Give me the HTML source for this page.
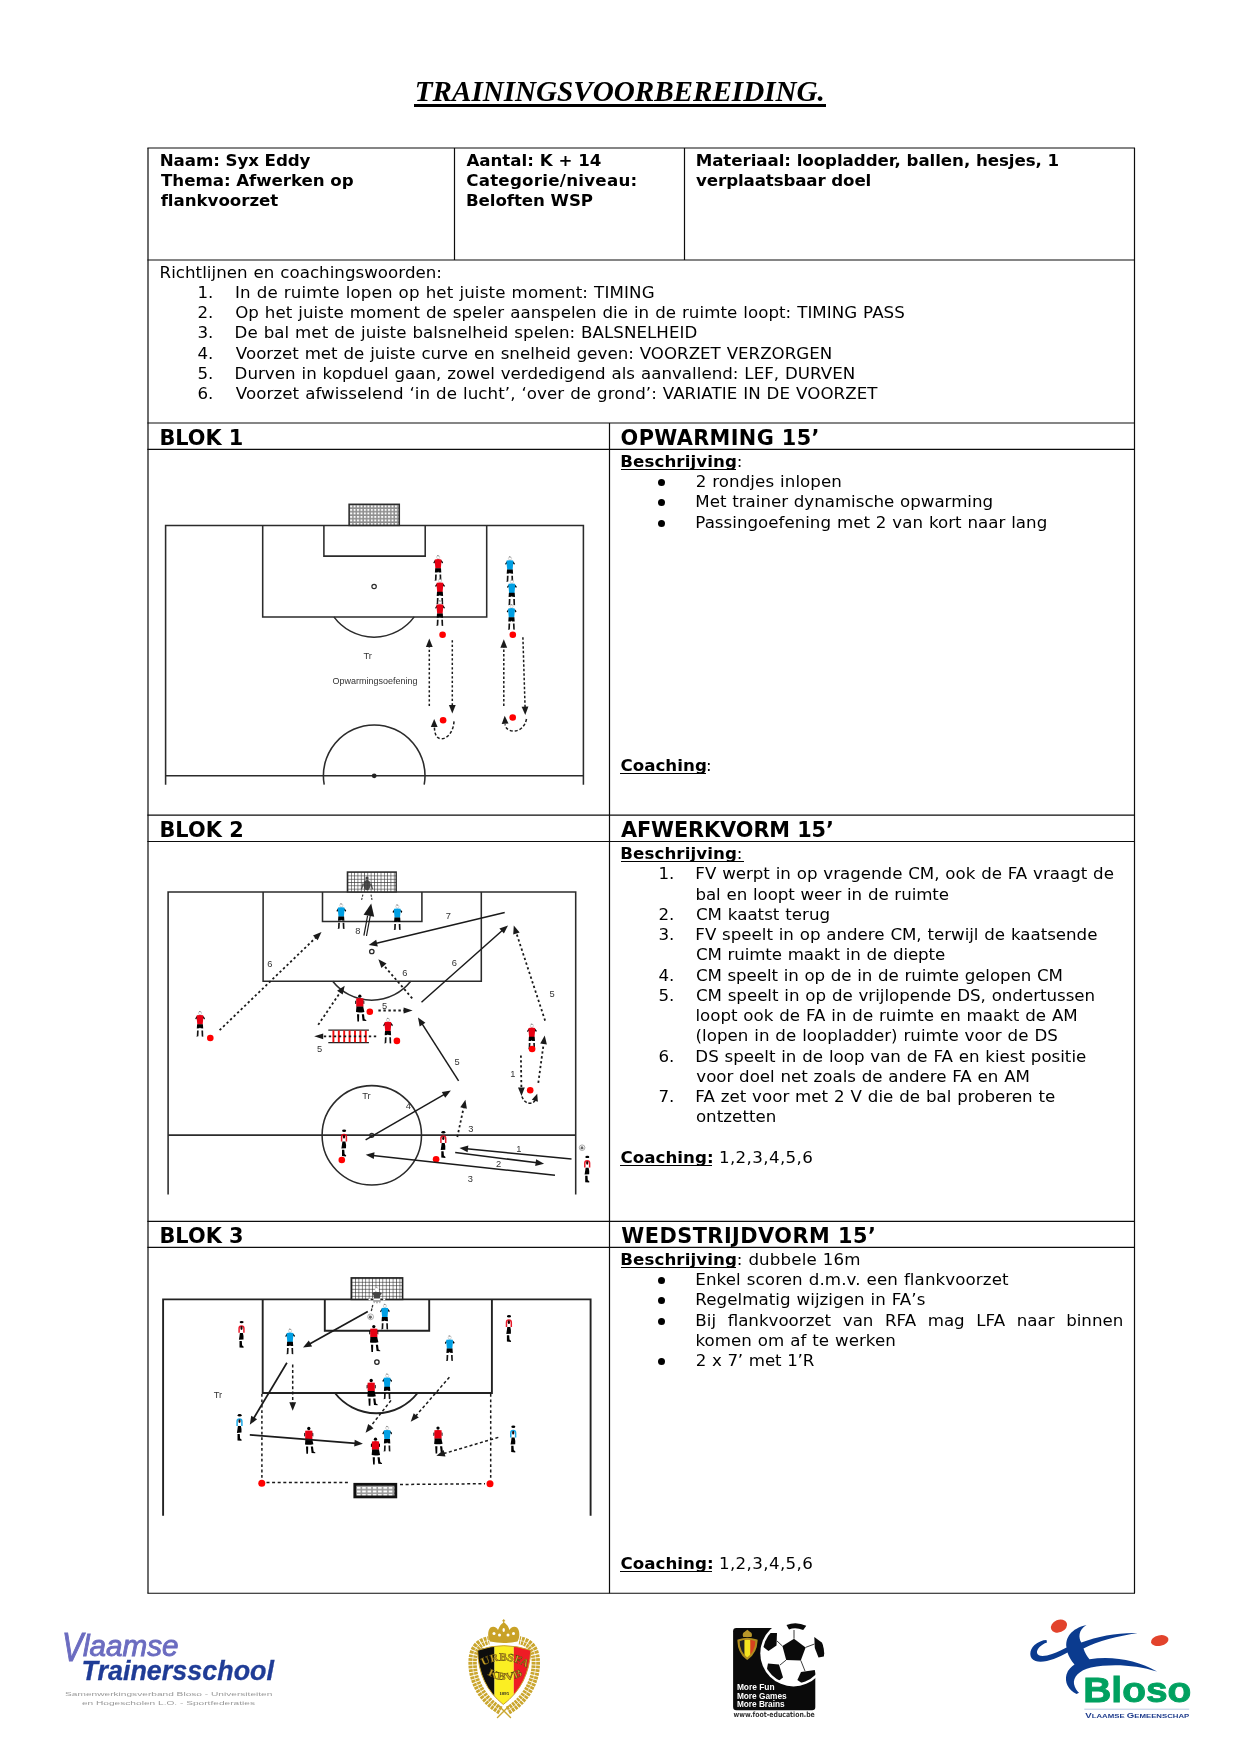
<!DOCTYPE html>
<html lang="nl"><head><meta charset="utf-8"><title>Trainingsvoorbereiding</title>
<style>
*{margin:0;padding:0;box-sizing:border-box}
html,body{width:1241px;background:#fff}
.t{position:absolute;white-space:pre;color:#000;line-height:24px;height:24px;font-family:"DejaVu Sans","Liberation Sans",sans-serif;font-kerning:normal}
.r{font-size:16.667px;word-spacing:0.57px}
.b{font-size:16.667px;font-weight:bold}
.h{font-size:20.833px;font-weight:bold}
.ti{font-family:"Liberation Serif",serif;font-weight:bold;font-style:italic;font-size:29.17px;line-height:36px;height:36px}

body{position:relative;height:1754px;overflow:hidden}
#pg{position:absolute;left:0;top:0;width:1241px;height:1754px;will-change:transform}
.ul{position:absolute;background:#000}
.bu{position:absolute;width:7px;height:7px;border-radius:50%;background:#000}
svg{position:absolute;overflow:visible}
</style></head>
<body>
<div id="pg">
<svg width="1241" height="1754" viewBox="0 0 1241 1754" style="left:0;top:0" fill="none" stroke="#0d0d0d" stroke-width="1.2">
<path d="M147.4 148H1135M147.4 260H1135M147.4 423H1135M147.4 449.45H1135M147.4 815.15H1135M147.4 841.5H1135M147.4 1221.4H1135M147.4 1247.35H1135M147.4 1593.25H1135"/>
<path d="M148 148V1593.25M1134.5 148V1593.25M454.5 148V260M684.5 148V260M609.5 423V1593.25"/>
</svg>
<div class="t ti" style="left:414.8px;top:73px;letter-spacing:-0.03px">TRAININGSVOORBEREIDING.</div>
<div class="ul" style="left:414.4px;top:104px;width:411.3px;height:2.9px"></div>
<div class="t b" style="left:159.68px;top:149.00px;letter-spacing:-0.071px;">Naam: Syx Eddy</div>
<div class="t b" style="left:161.07px;top:169.00px;letter-spacing:-0.056px;">Thema: Afwerken op</div>
<div class="t b" style="left:160.64px;top:189.00px;letter-spacing:-0.031px;">flankvoorzet</div>
<div class="t b" style="left:466.42px;top:149.00px;letter-spacing:-0.007px;">Aantal: K + 14</div>
<div class="t b" style="left:466.17px;top:169.00px;letter-spacing:0.259px;">Categorie/niveau:</div>
<div class="t b" style="left:465.93px;top:189.00px;letter-spacing:-0.069px;">Beloften WSP</div>
<div class="t b" style="left:695.63px;top:149.00px;letter-spacing:-0.055px;">Materiaal: loopladder, ballen, hesjes, 1</div>
<div class="t b" style="left:696.12px;top:169.00px;letter-spacing:-0.115px;">verplaatsbaar doel</div>
<div class="t r" style="left:159.59px;top:261.00px;letter-spacing:0.029px;">Richtlijnen en coachingswoorden:</div>
<div class="t r" style="left:197.47px;top:281.00px;">1.</div>
<div class="t r" style="left:234.94px;top:281.00px;letter-spacing:0.141px;">In de ruimte lopen op het juiste moment: TIMING</div>
<div class="t r" style="left:197.47px;top:301.00px;">2.</div>
<div class="t r" style="left:235.13px;top:301.00px;letter-spacing:0.050px;">Op het juiste moment de speler aanspelen die in de ruimte loopt: TIMING PASS</div>
<div class="t r" style="left:197.47px;top:321.00px;">3.</div>
<div class="t r" style="left:234.59px;top:321.00px;letter-spacing:0.044px;">De bal met de juiste balsnelheid spelen: BALSNELHEID</div>
<div class="t r" style="left:197.47px;top:342.00px;">4.</div>
<div class="t r" style="left:235.87px;top:342.00px;letter-spacing:0.007px;">Voorzet met de juiste curve en snelheid geven: VOORZET VERZORGEN</div>
<div class="t r" style="left:197.47px;top:362.00px;">5.</div>
<div class="t r" style="left:234.59px;top:362.00px;letter-spacing:0.022px;">Durven in kopduel gaan, zowel verdedigend als aanvallend: LEF, DURVEN</div>
<div class="t r" style="left:197.47px;top:382.00px;">6.</div>
<div class="t r" style="left:235.87px;top:382.00px;letter-spacing:0.070px;">Voorzet afwisselend ‘in de lucht’, ‘over de grond’: VARIATIE IN DE VOORZET</div>
<div class="t h" style="left:159.42px;top:426.00px;letter-spacing:-0.012px;">BLOK 1</div>
<div class="t h" style="left:620.57px;top:426.00px;letter-spacing:0.379px;">OPWARMING 15’</div>
<div class="t h" style="left:159.42px;top:818.00px;letter-spacing:0.052px;">BLOK 2</div>
<div class="t h" style="left:620.90px;top:818.00px;letter-spacing:-0.083px;">AFWERKVORM 15’</div>
<div class="t h" style="left:159.42px;top:1224.00px;letter-spacing:0.038px;">BLOK 3</div>
<div class="t h" style="left:621.27px;top:1224.00px;letter-spacing:0.479px;">WEDSTRIJDVORM 15’</div>
<div class="t b" style="left:620.18px;top:450.00px;letter-spacing:0.108px;">Beschrijving</div>
<div class="ul" style="left:620.55px;top:468.60px;width:115.50px;height:1.5px"></div>
<div class="t r" style="left:736.63px;top:450.00px;">:</div>
<div class="t r" style="left:695.71px;top:470.00px;letter-spacing:0.068px;">2 rondjes inlopen</div>
<div class="bu" style="left:658.25px;top:479.20px"></div>
<div class="t r" style="left:695.34px;top:490.00px;letter-spacing:-0.022px;">Met trainer dynamische opwarming</div>
<div class="bu" style="left:658.25px;top:499.20px"></div>
<div class="t r" style="left:695.34px;top:511.00px;letter-spacing:0.015px;">Passingoefening met 2 van kort naar lang</div>
<div class="bu" style="left:658.25px;top:520.20px"></div>
<div class="t b" style="left:620.42px;top:754.00px;letter-spacing:0.038px;">Coaching</div>
<div class="ul" style="left:620.05px;top:772.60px;width:85.75px;height:1.5px"></div>
<div class="t r" style="left:706.08px;top:754.00px;">:</div>
<div class="t b" style="left:620.18px;top:842.00px;letter-spacing:0.108px;">Beschrijving</div>
<div class="ul" style="left:620.55px;top:860.60px;width:115.50px;height:1.5px"></div>
<div class="t r" style="left:736.63px;top:842.00px;">:</div>
<div class="ul" style="left:735.75px;top:860.80px;width:8.50px;height:1px"></div>
<div class="t r" style="left:658.47px;top:862.00px;">1.</div>
<div class="t r" style="left:695.34px;top:862.00px;letter-spacing:-0.012px;">FV werpt in op vragende CM, ook de FA vraagt de</div>
<div class="t r" style="left:695.46px;top:883.00px;letter-spacing:-0.065px;">bal en loopt weer in de ruimte</div>
<div class="t r" style="left:658.47px;top:903.00px;">2.</div>
<div class="t r" style="left:695.88px;top:903.00px;letter-spacing:0.016px;">CM kaatst terug</div>
<div class="t r" style="left:658.47px;top:923.00px;">3.</div>
<div class="t r" style="left:695.34px;top:923.00px;letter-spacing:-0.018px;">FV speelt in op andere CM, terwijl de kaatsende</div>
<div class="t r" style="left:695.88px;top:943.00px;letter-spacing:-0.097px;">CM ruimte maakt in de diepte</div>
<div class="t r" style="left:658.47px;top:964.00px;">4.</div>
<div class="t r" style="left:695.88px;top:964.00px;letter-spacing:-0.087px;">CM speelt in op de in de ruimte gelopen CM</div>
<div class="t r" style="left:658.47px;top:984.00px;">5.</div>
<div class="t r" style="left:695.88px;top:984.00px;letter-spacing:-0.018px;">CM speelt in op de vrijlopende DS, ondertussen</div>
<div class="t r" style="left:695.40px;top:1004.00px;">loopt ook de FA in de ruimte en maakt de AM</div>
<div class="t r" style="left:695.50px;top:1024.00px;letter-spacing:0.026px;">(lopen in de loopladder) ruimte voor de DS</div>
<div class="t r" style="left:658.47px;top:1045.00px;">6.</div>
<div class="t r" style="left:695.34px;top:1045.00px;letter-spacing:-0.011px;">DS speelt in de loop van de FA en kiest positie</div>
<div class="t r" style="left:696.31px;top:1065.00px;letter-spacing:-0.027px;">voor doel net zoals de andere FA en AM</div>
<div class="t r" style="left:658.47px;top:1085.00px;">7.</div>
<div class="t r" style="left:695.34px;top:1085.00px;letter-spacing:0.012px;">FA zet voor met 2 V die de bal proberen te</div>
<div class="t r" style="left:695.89px;top:1105.00px;letter-spacing:0.051px;">ontzetten</div>
<div class="t b" style="left:620.42px;top:1146.00px;letter-spacing:0.049px;">Coaching:</div>
<div class="ul" style="left:620.05px;top:1164.60px;width:92.25px;height:1.5px"></div>
<div class="t r" style="left:718.95px;top:1146.00px;letter-spacing:0.387px;">1,2,3,4,5,6</div>
<div class="t b" style="left:620.18px;top:1248.00px;letter-spacing:0.108px;">Beschrijving</div>
<div class="ul" style="left:620.55px;top:1266.60px;width:115.50px;height:1.5px"></div>
<div class="t r" style="left:736.63px;top:1248.00px;letter-spacing:0.150px;">: dubbele 16m</div>
<div class="t r" style="left:695.34px;top:1268.00px;letter-spacing:0.104px;">Enkel scoren d.m.v. een flankvoorzet</div>
<div class="bu" style="left:658.25px;top:1277.20px"></div>
<div class="t r" style="left:695.34px;top:1288.00px;letter-spacing:0.058px;">Regelmatig wijzigen in FA’s</div>
<div class="bu" style="left:658.25px;top:1297.20px"></div>
<div class="t r" style="left:695.34px;top:1309.00px;word-spacing:6.339px;">Bij flankvoorzet van RFA mag LFA naar binnen</div>
<div class="bu" style="left:658.25px;top:1318.20px"></div>
<div class="t r" style="left:695.46px;top:1329.00px;letter-spacing:0.038px;">komen om af te werken</div>
<div class="t r" style="left:695.71px;top:1349.00px;letter-spacing:-0.124px;">2 x 7’ met 1’R</div>
<div class="bu" style="left:658.25px;top:1358.20px"></div>
<div class="t b" style="left:620.42px;top:1552.00px;letter-spacing:0.049px;">Coaching:</div>
<div class="ul" style="left:620.05px;top:1570.60px;width:92.25px;height:1.5px"></div>
<div class="t r" style="left:718.95px;top:1552.00px;letter-spacing:0.387px;">1,2,3,4,5,6</div>
<svg width="1241" height="1754" viewBox="0 0 1241 1754" style="left:0;top:0;filter:blur(0.35px)" font-family="&quot;Liberation Sans&quot;,Arial,sans-serif">
<defs>
<pattern id="net" width="3.45" height="3.5" patternUnits="userSpaceOnUse" x="349.3" y="504.6"><rect width="3.45" height="3.5" fill="#8f8f8f"/><rect x="0.9" y="0.9" width="1.9" height="1.9" fill="#fff"/></pattern>
<pattern id="net2" width="3.3" height="3.3" patternUnits="userSpaceOnUse" x="347.6" y="872.2"><rect width="3.3" height="3.3" fill="#fff"/><path d="M0 0.4H3.3M0.4 0V3.3" stroke="#3a3a3a" stroke-width="0.62"/></pattern>
<pattern id="net3" width="3.42" height="3.5" patternUnits="userSpaceOnUse" x="351.6" y="1278.3"><rect width="3.5" height="3.5" fill="#fff"/><path d="M0 0.4H3.5M0.4 0V3.5" stroke="#2a2a2a" stroke-width="0.6"/></pattern>
<pattern id="net4" width="5.3" height="3.6" patternUnits="userSpaceOnUse" x="356" y="1486"><rect width="5.3" height="3.6" fill="#9a9a9a"/><rect x="0.9" y="0.9" width="3.7" height="2" fill="#fff"/></pattern>
<g id="pf"><circle cx="0.1" cy="-2" r="1.6" fill="#fff" stroke="#aaa" stroke-width="0.5"/><path d="M-0.9 -3.7l1.6 0.5" stroke="#444" stroke-width="0.6" fill="none"/>
<path d="M-3.2 0.9L-4.8 3.5L-3.9 4.4L-2.7 2.6ZM3.2 0.9L5 3.1L4.3 4.4L2.7 2.6Z" fill="#000"/>
<path d="M-3.2 0.2Q0 -0.4 3.2 0.2L3.4 1.8L2.7 9.3H-2.7L-3.4 1.8Z" fill="currentColor"/>
<path d="M-2.9 9.1H2.9L3.2 13.4L0.5 13.2L0 12.3L-0.5 13.2L-3.2 13.4Z" fill="#000"/>
<path d="M-3 15.4L-1.3 15.4L-1.6 21.2L-3.6 21.6L-3.2 20.6ZM1.4 15.4L3.1 15.4L3.3 21.6L1.7 21.3Z" fill="#000" opacity="0.92"/></g>
<g id="pb"><circle cx="0" cy="-2.1" r="1.65" fill="#000"/>
<path d="M-3.5 2L-4.6 2.6L-4.6 5.8L-3.5 5.4ZM3.5 2L4.5 2.6L4.5 5.8L3.5 5.4Z" fill="#000"/>
<path d="M-3.6 0.1Q0 -0.5 3.6 0.1V8.5H-3.6Z" fill="currentColor"/>
<path d="M-3.4 8.3H3.4L4.6 13.6Q0 14.6 -3.8 13.8Z" fill="#000"/>
<path d="M-2.8 16L-0.6 16L-0.8 23.2L-2.4 23.2ZM2 16L4.2 16L4.8 20.8L6.6 22L6.4 22.6L2.8 22.4Z" fill="#000"/></g>
<g id="ps"><ellipse cx="0.1" cy="1" rx="2" ry="1.2" fill="#000"/>
<path d="M-2.4 11.7V7.2Q-2.4 4.8 0 4.8Q2.4 4.8 2.4 7.2V11.7" fill="none" stroke="currentColor" stroke-width="1.5" opacity="0.9"/>
<ellipse cx="0" cy="6.9" rx="1.1" ry="1.9" fill="#200"/>
<path d="M-1.6 11.8H1.4Q2.4 15 2 18.4L-2.6 18.7Q-2 15 -1.6 11.8Z" fill="#000"/>
<path d="M-2 19.9H0.3L0.6 24.2L2.2 25.6L2 26.6L-2 26.3Z" fill="#000"/></g>
</defs>
<g fill="none" stroke="#2b2b2b" stroke-width="1.55">
<path d="M165.6 784.7V525.4H583.4V784.7"/>
<path d="M262.7 525.4V616.9H486.7V525.4"/>
<path d="M323.9 525.4V556.1H425.2V525.4"/>
<path d="M333.9 616.9A49.9 49.9 0 0 0 414.2 616.9"/>
<path d="M165.6 775.8H583.4"/>
<path d="M324.2 784.7A50.8 50.8 0 1 1 424.2 784.7" />
<circle cx="374.1" cy="586.5" r="2.2" stroke-width="1.2"/>
<rect x="349.1" y="504.3" width="50.2" height="21.1" fill="url(#net)" stroke-width="1.5"/>
</g>
<circle cx="374.2" cy="775.8" r="2.4" fill="#222"/>
<use href="#pf" x="438.1" y="559.2" color="#e60012"/>
<use href="#pf" x="439.9" y="582.6" color="#e60012"/>
<use href="#pf" x="439.9" y="604.4" color="#e60012"/>
<use href="#pf" x="509.9" y="560.4" color="#009fe3"/>
<use href="#pf" x="511.8" y="583.6" color="#009fe3"/>
<use href="#pf" x="511.5" y="608.2" color="#009fe3"/>
<circle cx="442.6" cy="634.7" r="3.3" fill="#f00"/>
<circle cx="512.8" cy="634.7" r="3.3" fill="#f00"/>
<circle cx="443.1" cy="720.2" r="3.3" fill="#f00"/>
<circle cx="512.7" cy="717.5" r="3.3" fill="#f00"/>
<path d="M429.3 706.1L429.3 645.5" stroke="#1a1a1a" stroke-width="1.50" fill="none" stroke-dasharray="2.4 2.1"/>
<path d="M429.3 638.5L432.7 647.0L425.9 647.0Z" fill="#1a1a1a"/>
<path d="M452.3 640.2L452.3 706.4" stroke="#1a1a1a" stroke-width="1.50" fill="none" stroke-dasharray="2.4 2.1"/>
<path d="M452.3 713.4L448.9 704.9L455.7 704.9Z" fill="#1a1a1a"/>
<path d="M503.8 706.0L503.8 646.2" stroke="#1a1a1a" stroke-width="1.50" fill="none" stroke-dasharray="2.4 2.1"/>
<path d="M503.8 639.2L507.2 647.7L500.4 647.7Z" fill="#1a1a1a"/>
<path d="M522.9 637.3L525.1 708.1" stroke="#1a1a1a" stroke-width="1.50" fill="none" stroke-dasharray="2.4 2.1"/>
<path d="M525.3 715.1L521.6 706.7L528.4 706.5Z" fill="#1a1a1a"/>
<path d="M454 721.4C453.5 731 448 739 441 738.8C436 738.6 434.6 733 434.4 727" fill="none" stroke="#1a1a1a" stroke-width="1.5" stroke-dasharray="3 2"/>
<path d="M434.2 719.0L437.6 727.0L430.8 727.0Z" fill="#1a1a1a"/>
<path d="M526.5 719C525 727 519 731.6 512.7 731C508 730.6 505.6 728 505 724.3" fill="none" stroke="#1a1a1a" stroke-width="1.5" stroke-dasharray="3 2"/>
<path d="M504.7 715.8L508.5 723.6L501.7 724.0Z" fill="#1a1a1a"/>
<text x="363.4" y="659" font-size="9.4" fill="#333" textLength="8.6" lengthAdjust="spacingAndGlyphs">Tr</text>
<text x="332.6" y="684.4" font-size="9.4" fill="#333" textLength="85" lengthAdjust="spacingAndGlyphs">Opwarmingsoefening</text>
<g fill="none" stroke="#2b2b2b" stroke-width="1.55">
<path d="M168.1 1194.6V891.9H575.7V1194.6"/>
<path d="M263.1 891.9V981.3H481.3V891.9"/>
<path d="M322.5 891.9V921.5H421.9V891.9"/>
<path d="M332.7 981.3A49.7 49.7 0 0 0 410.7 981.3"/>
<path d="M168.1 1135.1H575.7"/>
<circle cx="371.8" cy="1135.3" r="49.7"/>
<circle cx="371.8" cy="951.5" r="2.2" stroke-width="1.3"/>
<circle cx="371.8" cy="1135.3" r="2" stroke-width="1.3"/>
<rect x="347.4" y="872" width="48.8" height="19.9" fill="url(#net2)" stroke-width="1.4"/>
</g>
<g fill="#3a3a3a"><ellipse cx="367" cy="885" rx="3.4" ry="5.2" opacity="0.9"/><circle cx="367" cy="878" r="1.6" fill="#444"/><path d="M362.6 883L360.8 889L362 889.6L364 884ZM371.4 883L373.2 889L372 889.6L370 884Z" opacity="0.8"/></g>
<path d="M362.9 894.6L361.6 899.9M371 894.6L372 899.9" stroke="#333" stroke-width="1.1" stroke-dasharray="2.2 1.2" fill="none"/>
<use href="#pf" x="341.2" y="907.4" color="#009fe3"/>
<use href="#pf" x="397.3" y="908.5" color="#009fe3"/>
<use href="#pf" x="200.0" y="1015.1" color="#e60012"/>
<use href="#pf" x="387.9" y="1021.9" color="#e60012"/>
<use href="#pf" x="531.8" y="1027.7" color="#e60012"/>
<use href="#pb" x="359.8" y="998.3" color="#e60012"/>
<use href="#ps" x="344.0" y="1129.8" color="#e60012"/>
<use href="#ps" x="443.3" y="1131.3" color="#e60012"/>
<use href="#ps" x="587.2" y="1155.9" color="#e60012"/>
<circle cx="210.3" cy="1038.0" r="3.3" fill="#f00"/>
<circle cx="369.8" cy="1011.8" r="3.3" fill="#f00"/>
<circle cx="396.9" cy="1040.9" r="3.3" fill="#f00"/>
<circle cx="532.1" cy="1049.0" r="3.3" fill="#f00"/>
<circle cx="530.2" cy="1090.2" r="3.3" fill="#f00"/>
<circle cx="341.8" cy="1160.0" r="3.3" fill="#f00"/>
<circle cx="436.1" cy="1159.3" r="3.3" fill="#f00"/>
<path d="M328.3 1030.2H368.9M328.3 1042.6H368.9" stroke="#222" stroke-width="1.2" fill="none"/>
<path d="M333.4 1030.6V1042.2M338.8 1030.6V1042.2M344.2 1030.6V1042.2M349.6 1030.6V1042.2M355.0 1030.6V1042.2M360.4 1030.6V1042.2M365.8 1030.6V1042.2" stroke="#f20d0d" stroke-width="1.9" fill="none"/>
<path d="M376.2 1036.4L321.7 1036.3" stroke="#1a1a1a" stroke-width="1.80" fill="none" stroke-dasharray="2.4 2.6"/>
<path d="M314.2 1036.3L323.2 1033.4L323.2 1039.2Z" fill="#1a1a1a"/>
<path d="M219.6 1030.2L316.5 936.9" stroke="#1a1a1a" stroke-width="1.80" fill="none" stroke-dasharray="2.3 2.6"/>
<path d="M321.5 932.0L317.7 940.3L313.0 935.5Z" fill="#1a1a1a"/>
<path d="M318.2 1024.8L340.8 991.5" stroke="#1a1a1a" stroke-width="1.80" fill="none" stroke-dasharray="2.3 2.6"/>
<path d="M344.7 985.7L342.7 994.6L337.1 990.8Z" fill="#1a1a1a"/>
<path d="M412.2 998.3L383.0 964.5" stroke="#1a1a1a" stroke-width="1.80" fill="none" stroke-dasharray="2.3 2.6"/>
<path d="M378.4 959.2L386.5 963.4L381.4 967.9Z" fill="#1a1a1a"/>
<path d="M378.4 1010.5L405.1 1010.5" stroke="#1a1a1a" stroke-width="1.80" fill="none" stroke-dasharray="2.4 2.6"/>
<path d="M412.6 1010.5L403.6 1013.5L403.6 1007.5Z" fill="#1a1a1a"/>
<path d="M545.1 1020.6L516.0 932.0" stroke="#1a1a1a" stroke-width="1.80" fill="none" stroke-dasharray="2.3 2.6"/>
<path d="M513.8 925.4L519.7 932.4L513.2 934.5Z" fill="#1a1a1a"/>
<path d="M538.3 1082.8L543.8 1042.4" stroke="#1a1a1a" stroke-width="1.80" fill="none" stroke-dasharray="2.3 2.6"/>
<path d="M544.7 1035.5L546.9 1044.4L540.2 1043.5Z" fill="#1a1a1a"/>
<path d="M520.9 1055.4L521.4 1089.0" stroke="#1a1a1a" stroke-width="1.80" fill="none" stroke-dasharray="2.3 2.6"/>
<path d="M521.5 1096.0L518.0 1087.6L524.8 1087.5Z" fill="#1a1a1a"/>
<path d="M521.9 1096.5C523.5 1101 527 1103.6 530.5 1103.2C533 1103 534.6 1101.6 535.3 1100" fill="none" stroke="#1a1a1a" stroke-width="1.5" stroke-dasharray="3 1.8"/>
<path d="M537.2 1093.7L537.9 1101.8L531.8 1099.8Z" fill="#1a1a1a"/>
<path d="M457.3 1137.0L463.9 1106.5" stroke="#1a1a1a" stroke-width="1.80" fill="none" stroke-dasharray="2.3 2.6"/>
<path d="M465.4 1099.7L466.9 1108.7L460.3 1107.3Z" fill="#1a1a1a"/>
<path d="M504.7 912.6L375.5 943.5" stroke="#1a1a1a" stroke-width="1.50" fill="none"/>
<path d="M368.7 945.1L376.2 939.8L377.8 946.4Z" fill="#1a1a1a"/>
<path d="M421.5 1002.2L502.8 930.0" stroke="#1a1a1a" stroke-width="1.50" fill="none"/>
<path d="M508.0 925.4L503.9 933.6L499.4 928.5Z" fill="#1a1a1a"/>
<path d="M458.6 1080.9L421.8 1023.4" stroke="#1a1a1a" stroke-width="1.50" fill="none"/>
<path d="M418.0 1017.5L425.4 1022.8L419.7 1026.5Z" fill="#1a1a1a"/>
<path d="M365.6 1139.9L444.8 1094.1" stroke="#1a1a1a" stroke-width="1.50" fill="none"/>
<path d="M450.9 1090.6L445.2 1097.8L441.8 1091.9Z" fill="#1a1a1a"/>
<path d="M571.5 1159.1L466.5 1148.7" stroke="#1a1a1a" stroke-width="1.50" fill="none"/>
<path d="M459.5 1148.0L468.3 1145.5L467.6 1152.2Z" fill="#1a1a1a"/>
<path d="M455.2 1152.5L537.2 1162.8" stroke="#1a1a1a" stroke-width="1.50" fill="none"/>
<path d="M544.1 1163.7L535.2 1166.0L536.1 1159.3Z" fill="#1a1a1a"/>
<path d="M555.0 1175.3L372.7 1155.5" stroke="#1a1a1a" stroke-width="1.50" fill="none"/>
<path d="M365.7 1154.7L374.5 1152.2L373.8 1159.0Z" fill="#1a1a1a"/>
<path d="M363.9 935.6L367.6 915.6" stroke="#1a1a1a" stroke-width="1.20" fill="none"/>
<path d="M366.5 936.0L370.2 916.0" stroke="#1a1a1a" stroke-width="1.20" fill="none"/>
<path d="M371.2 903.5L374.2 916.8L363.6 914.8Z" fill="#1a1a1a"/>
<text x="357.9" y="933.5" font-size="9.3" fill="#333" text-anchor="middle">8</text>
<text x="269.9" y="967.2" font-size="9.3" fill="#333" text-anchor="middle">6</text>
<text x="448.4" y="918.8" font-size="9.3" fill="#333" text-anchor="middle">7</text>
<text x="454.4" y="966.4" font-size="9.3" fill="#333" text-anchor="middle">6</text>
<text x="404.9" y="975.5" font-size="9.3" fill="#333" text-anchor="middle">6</text>
<text x="552.1" y="997.1" font-size="9.3" fill="#333" text-anchor="middle">5</text>
<text x="384.6" y="1008.6" font-size="9.3" fill="#333" text-anchor="middle">5</text>
<text x="319.6" y="1051.9" font-size="9.3" fill="#333" text-anchor="middle">5</text>
<text x="457.1" y="1064.5" font-size="9.3" fill="#333" text-anchor="middle">5</text>
<text x="512.8" y="1077.4" font-size="9.3" fill="#333" text-anchor="middle">1</text>
<text x="408.4" y="1109.4" font-size="9.3" fill="#333" text-anchor="middle">4</text>
<text x="470.8" y="1132.4" font-size="9.3" fill="#333" text-anchor="middle">3</text>
<text x="518.8" y="1152.0" font-size="9.3" fill="#333" text-anchor="middle">1</text>
<text x="498.7" y="1167.0" font-size="9.3" fill="#333" text-anchor="middle">2</text>
<text x="470.4" y="1182.2" font-size="9.3" fill="#333" text-anchor="middle">3</text>
<text x="366.4" y="1099.2" font-size="9.4" fill="#333" text-anchor="middle">Tr</text>
<g><circle cx="582.1" cy="1147.7" r="2.8" fill="#fff" stroke="#888" stroke-width="0.7"/><path d="M581 1146.4l2 0.2l0.6 1.8l-1.6 1.2l-1.6-1z" fill="#666"/></g>
<g fill="none" stroke="#222" stroke-width="1.9">
<path d="M163.1 1515.7V1299.4H590.6V1515.7"/>
<path d="M262.7 1299.4V1393H491.9V1299.4"/>
<path d="M324.8 1299.4V1330.8H429.2V1299.4"/>
<path d="M334.9 1393A52.4 52.4 0 0 0 417.6 1393"/>
<circle cx="376.9" cy="1362.1" r="2.2" stroke-width="1.3"/>
<rect x="351.3" y="1277.9" width="51.3" height="21.5" fill="url(#net3)" stroke-width="1.6"/>
</g>
<g><ellipse cx="376.9" cy="1299.4" rx="8.6" ry="1.6" fill="#fff"/><path d="M370.6 1299.4H373.4M380.3 1299.4H383.2" stroke="#222" stroke-width="1.7"/><path d="M372.6 1300L374 1303.6L375.6 1301.6L377 1304L378.4 1301.6L380 1303.6L381.2 1300Z" fill="#a5a5a5"/><path d="M371.8 1293.8L374 1292L379.8 1292L382 1293.8L380.4 1295L379.8 1298.6H374L373.4 1295Z" fill="#444"/><circle cx="376.9" cy="1289.6" r="1.9" fill="#fff"/><path d="M375.8 1287.4l2 0.6" stroke="#777" stroke-width="0.6"/></g>
<path d="M372.8 1305L371.2 1311.4" stroke="#333" stroke-width="1.3" stroke-dasharray="2.6 1" fill="none"/>
<g><circle cx="370.6" cy="1316.8" r="2.9" fill="#fff" stroke="#999" stroke-width="0.8"/><path d="M369.3 1315.6l2.2 0.2l0.6 1.8l-1.7 1.3l-1.7-1.1z" fill="#666"/></g>
<use href="#pf" x="290.0" y="1332.7" color="#009fe3"/>
<use href="#pf" x="384.8" y="1307.9" color="#009fe3"/>
<use href="#pf" x="449.6" y="1339.5" color="#009fe3"/>
<use href="#pf" x="387.1" y="1377.6" color="#009fe3"/>
<use href="#pf" x="387.1" y="1430.0" color="#009fe3"/>
<use href="#pb" x="373.8" y="1328.7" color="#e60012"/>
<use href="#pb" x="371.2" y="1382.6" color="#e60012"/>
<use href="#pb" x="308.8" y="1430.6" color="#e60012"/>
<use href="#pb" x="375.5" y="1441.3" color="#e60012"/>
<use href="#pb" x="438.0" y="1430.2" color="#e60012"/>
<use href="#ps" x="241.5" y="1321.1" color="#e60012"/>
<use href="#ps" x="508.9" y="1315.3" color="#e60012"/>
<use href="#ps" x="239.5" y="1414.2" color="#009fe3"/>
<use href="#ps" x="513.2" y="1425.8" color="#009fe3"/>
<circle cx="261.8" cy="1483.2" r="3.5" fill="#f00"/>
<circle cx="490.0" cy="1483.8" r="3.5" fill="#f00"/>
<path d="M261.9 1394V1479M490.7 1394V1479" stroke="#1a1a1a" stroke-width="1.5" stroke-dasharray="2.8 2.6" fill="none"/>
<path d="M266.5 1482.5H349.5M400 1484.5L485 1483.7" stroke="#1a1a1a" stroke-width="1.5" stroke-dasharray="3 2.6" fill="none"/>
<rect x="354.8" y="1484.3" width="41" height="12.6" fill="url(#net4)" stroke="#111" stroke-width="2.8"/>
<path d="M367.8 1311.4L309.1 1344.2" stroke="#1a1a1a" stroke-width="1.70" fill="none"/>
<path d="M303.0 1347.6L308.8 1340.5L312.1 1346.4Z" fill="#1a1a1a"/>
<path d="M286.9 1362.7L253.4 1418.8" stroke="#1a1a1a" stroke-width="1.70" fill="none"/>
<path d="M249.8 1424.8L251.2 1415.8L257.1 1419.2Z" fill="#1a1a1a"/>
<path d="M249.8 1434.9L355.9 1443.3" stroke="#1a1a1a" stroke-width="1.70" fill="none"/>
<path d="M362.9 1443.8L354.2 1446.5L354.7 1439.7Z" fill="#1a1a1a"/>
<path d="M292.7 1364.6L292.7 1403.7" stroke="#1a1a1a" stroke-width="1.50" fill="none" stroke-dasharray="3 2.4"/>
<path d="M292.7 1410.7L289.3 1402.2L296.1 1402.2Z" fill="#1a1a1a"/>
<path d="M391.0 1400.4L369.9 1427.3" stroke="#1a1a1a" stroke-width="1.50" fill="none" stroke-dasharray="3 2.4"/>
<path d="M365.6 1432.8L368.2 1424.0L373.5 1428.2Z" fill="#1a1a1a"/>
<path d="M449.4 1377.2L415.3 1416.5" stroke="#1a1a1a" stroke-width="1.50" fill="none" stroke-dasharray="3 2.4"/>
<path d="M410.7 1421.8L413.7 1413.2L418.8 1417.6Z" fill="#1a1a1a"/>
<path d="M498.3 1437.4L443.1 1453.8" stroke="#1a1a1a" stroke-width="1.50" fill="none" stroke-dasharray="3 2.4"/>
<path d="M436.4 1455.8L443.6 1450.1L445.5 1456.6Z" fill="#1a1a1a"/>
<text x="217.9" y="1398.4" font-size="9.4" fill="#333" text-anchor="middle">Tr</text>
</svg>
<svg width="1241" height="1754" viewBox="0 0 1241 1754" style="left:0;top:0" font-family="&quot;Liberation Sans&quot;,Arial,sans-serif">
<!-- Vlaamse Trainersschool -->
<g font-style="italic">
<text x="62" y="1661" font-size="41.5" fill="#6b6cc0" stroke="#6b6cc0" stroke-width="1.1" textLength="21" lengthAdjust="spacingAndGlyphs">V</text>
<text x="83" y="1655.8" font-size="30" fill="#6b6cc0" stroke="#6b6cc0" stroke-width="0.9" textLength="95.6" lengthAdjust="spacingAndGlyphs">laamse</text>
<text x="81.5" y="1680" font-size="27.4" font-weight="bold" fill="#1f3c96" stroke="#1f3c96" stroke-width="0.3" textLength="192.5" lengthAdjust="spacingAndGlyphs">Trainersschool</text>
</g>
<text x="65.1" y="1696" font-size="5.9" fill="#9a9a9a" textLength="207.3" lengthAdjust="spacingAndGlyphs">Samenwerkingsverband Bloso - Universiteiten</text>
<text x="81.9" y="1704.7" font-size="5.9" fill="#9a9a9a" textLength="173.1" lengthAdjust="spacingAndGlyphs">en Hogescholen L.O. - Sportfederaties</text>
<!-- KBVB crest -->
<g id="crest">
<g fill="none" stroke="#caa62e">
<path d="M500.500 1710.500C487 1703 473 1686 472.600 1664C472.300 1652 476 1642.500 489 1640.300" stroke-width="8.400" stroke-dasharray="2.600 0.900"/>
<path d="M507.900 1710.500C521.400 1703 535.400 1686 535.800 1664C536.100 1652 532.400 1642.500 519.400 1640.300" stroke-width="8.400" stroke-dasharray="2.600 0.900"/>
<path d="M500.500 1710.500C487 1703 473 1686 472.600 1664C472.300 1652 476 1642.500 489 1640.300M507.900 1710.500C521.400 1703 535.400 1686 535.800 1664C536.100 1652 532.400 1642.500 519.400 1640.300" stroke="#fff" stroke-width="1" opacity="0.600"/>
<path d="M497.500 1717.500L509.500 1705.500M510.500 1717.500L498.500 1705.500" stroke-width="1.400" stroke-linecap="round"/>
</g>
<path d="M490 1641.6C487 1636 488 1630 490.5 1627.5C494 1625.5 497 1628 498 1630C499.5 1626 501.5 1623 503.7 1622.4C506 1623 508 1626 509.5 1630C510.5 1628 513.5 1625.500 517 1627.5C519.500 1630 520.5 1636 517.500 1641.6Q503.700 1644.5 490 1641.6Z" fill="#c9a227"/>
<path d="M503.700 1619.300V1623M502.300 1620.800H505.100" stroke="#c9a227" stroke-width="1.1"/>
<g fill="#fff"><circle cx="494" cy="1633.500" r="1.5"/><circle cx="499.500" cy="1635" r="1.5"/><circle cx="508" cy="1635" r="1.5"/><circle cx="513.500" cy="1633.500" r="1.5"/><ellipse cx="503.700" cy="1630" rx="1.2" ry="2"/></g>
<clipPath id="sh"><path d="M477.600 1650.300Q503.500 1641 530.800 1650.300Q529 1685 503.300 1704.500Q478.500 1685 477.600 1650.300Z"/></clipPath>
<g clip-path="url(#sh)"><rect x="470" y="1640" width="24.500" height="70" fill="#0d0d0d"/><rect x="494.500" y="1640" width="19.300" height="70" fill="#fbee23"/><rect x="513.800" y="1640" width="20" height="70" fill="#ee1c25"/></g>
<path d="M477.600 1650.300Q503.500 1641 530.800 1650.300Q529 1685 503.300 1704.500Q478.500 1685 477.600 1650.300Z" fill="none" stroke="#c9a227" stroke-width="1"/>
<path id="arc1" d="M482 1666.500Q504 1653.500 528 1668.500" fill="none"/>
<path id="arc2" d="M486 1673.500Q504 1686 524 1674.500" fill="none"/>
<g font-family="&quot;Liberation Serif&quot;,serif" font-weight="bold" fill="#c9a227" stroke="#4a3a08" stroke-width="0.35">
<text font-size="11"><textPath href="#arc1" startOffset="1" textLength="46.500" lengthAdjust="spacingAndGlyphs">URBSFA</textPath></text>
<text font-size="10.500"><textPath href="#arc2" startOffset="1.500" textLength="37.500" lengthAdjust="spacingAndGlyphs">KBVB</textPath></text>
</g>
<text x="504.300" y="1694.800" font-family="&quot;Liberation Serif&quot;,serif" font-weight="bold" font-size="4.800" fill="#222" text-anchor="middle">1895</text>
</g>
<!-- foot-education -->
<rect x="733.100" y="1628.100" width="82.200" height="82.200" rx="3.200" fill="#0a0a0a"/>
<circle cx="793.500" cy="1653.200" r="33.200" fill="#fff"/>
<clipPath id="bc"><circle cx="793.500" cy="1653.200" r="30.700"/></clipPath>
<g clip-path="url(#bc)" fill="#0a0a0a">
<path d="M794 1638.700L805.600 1647.400L800.800 1660.500L786.200 1660L782.400 1646Z"/>
<path d="M786.500 1625Q796 1621 806.300 1625.700L803.200 1629.900Q795 1626.800 789 1629.600Z"/>
<path d="M777 1633L776.500 1645.500L768.500 1651L762 1646L768 1633Z"/>
<path d="M814.300 1637L822.500 1643L826 1656L818.500 1657.600L814.800 1648Z"/>
<path d="M768 1663.400L779 1664.500L783 1677.500L776 1683L766 1674Z"/>
<path d="M801 1672L814.800 1670L816 1678L806 1686L797.400 1680Z"/>
</g>
<g stroke="#0a0a0a" stroke-width="0.800" fill="none"><path d="M794 1638.700V1630M805.600 1647.400L814.500 1644M800.800 1660.500L805 1671M786.200 1660L780 1665M782.400 1646L777 1641"/></g>
<g transform="translate(747.500 1646.500) scale(0.300) translate(-504.200 -1668)">
<path d="M477.600 1650.300Q503.500 1641 530.800 1650.300Q529 1685 503.300 1704.500Q478.500 1685 477.600 1650.300Z" fill="#c9a227" stroke="#b08d1e" stroke-width="14"/>
<g clip-path="url(#sh)"><rect x="470" y="1640" width="24.500" height="70" fill="#222"/><rect x="494.500" y="1640" width="19.300" height="70" fill="#f5e31f"/><rect x="513.800" y="1640" width="20" height="70" fill="#d8431f"/></g>
<path d="M490 1636C487 1630 488 1622 494 1620L503.700 1612L513 1620C519.500 1622 520.500 1630 517.500 1636Z" fill="#b8962a"/>
</g>
<g fill="#fff" font-size="9.300" font-weight="bold">
<text x="736.900" y="1689.500" textLength="37.700" lengthAdjust="spacingAndGlyphs">More Fun</text>
<text x="736.900" y="1698.700" textLength="49.800" lengthAdjust="spacingAndGlyphs">More Games</text>
<text x="736.900" y="1706.900" textLength="47.700" lengthAdjust="spacingAndGlyphs">More Brains</text>
</g>
<text x="733.500" y="1716.500" font-size="7.400" font-weight="bold" fill="#333" font-family="&quot;DejaVu Sans&quot;,&quot;Liberation Sans&quot;,sans-serif" textLength="81.300" lengthAdjust="spacingAndGlyphs">www.foot-education.be</text>
<!-- Bloso -->
<ellipse cx="1059" cy="1626.100" rx="8.400" ry="6.200" fill="#e2432c" transform="rotate(-22 1059 1626.100)"/>
<ellipse cx="1159.700" cy="1640.600" rx="8.900" ry="5.300" fill="#e2432c" transform="rotate(-12 1159.700 1640.600)"/>
<path fill="#0b3b8f" d="M1086.500 1625C1078 1630 1078.500 1638 1081.300 1642.600C1098 1636 1118 1632.500 1137.500 1633C1118 1636 1098 1641 1083.500 1648.500C1085 1653 1087 1656.500 1089.500 1659.200C1112 1655.500 1138 1660 1157 1671.600C1136 1664.500 1110 1663.500 1091 1667.500C1079 1670.500 1073 1677 1074 1684C1074.800 1688 1077 1691 1079 1692.800L1076.500 1694C1068 1690 1064.500 1682 1066.500 1674.500C1068 1669.500 1071.500 1666.500 1074.500 1664.500C1071 1660.500 1068.500 1656 1067.500 1652.500C1057 1658.500 1044 1663.500 1035.500 1661C1028.500 1658.500 1029 1650 1034.500 1645C1038 1642 1042.500 1640 1046.500 1640L1047 1642.500C1041 1644.500 1036.500 1649 1037 1653C1038 1657 1045 1656.500 1052 1654C1057.500 1652 1063 1649.500 1066.500 1647.500C1065 1638 1071 1628.500 1086.500 1625Z"/>
<text x="1083.300" y="1701.900" font-size="35.300" font-weight="bold" fill="#00a160" stroke="#00a160" stroke-width="0.900" textLength="108" lengthAdjust="spacingAndGlyphs">Bloso</text>
<path d="M1084.300 1709.200H1189.200" stroke="#a9bbdc" stroke-width="0.800"/>
<text x="1085.300" y="1717.700" font-size="5.700" font-weight="bold" fill="#1f3c8c" textLength="104" lengthAdjust="spacingAndGlyphs"><tspan font-size="7">V</tspan>LAAMSE <tspan font-size="7">G</tspan>EMEENSCHAP</text>
</svg>
</div>
</body></html>
